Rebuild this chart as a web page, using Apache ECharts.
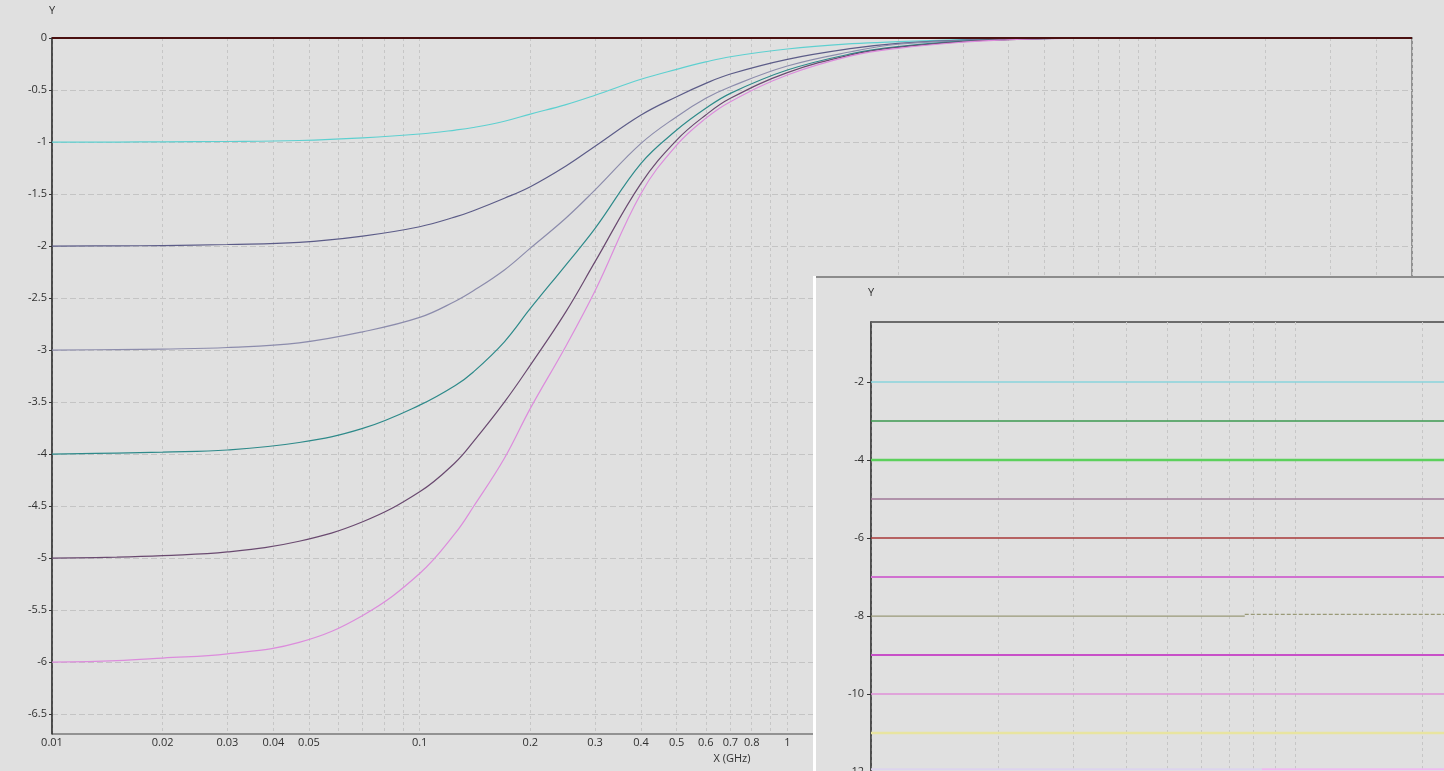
<!DOCTYPE html>
<html><head><meta charset="utf-8">
<script src="https://cdn.jsdelivr.net/npm/echarts@6/dist/echarts.min.js"></script>
<style>html,body{margin:0;padding:0;background:#e0e0e0}#c{width:1444px;height:771px}</style>
</head><body><div id="c"></div>
<script>
// ---- main chart data ----
const freq = [0.01,0.015,0.02,0.03,0.047,0.07,0.1,0.125,0.14,0.17,0.2,0.25,0.3,0.4,0.5,0.6,0.7,1,1.5,2,3,4,5,7,10,20,50];
const curveA = [-1.0,-1.0,-0.998,-0.995,-0.985,-0.96,-0.923,-0.885,-0.86,-0.80,-0.731,-0.64,-0.55,-0.397,-0.301,-0.23,-0.18,-0.106,-0.055,-0.035,-0.015,-0.007,-0.003,0,0,0,0];
const curveB = [-2.0,-1.998,-1.995,-1.985,-1.965,-1.904,-1.814,-1.72,-1.66,-1.54,-1.429,-1.23,-1.04,-0.74,-0.564,-0.436,-0.346,-0.205,-0.10,-0.051,-0.02,-0.01,-0.004,0,0,0,0];
const curveC = [-3.0,-2.995,-2.99,-2.975,-2.93,-2.824,-2.686,-2.53,-2.43,-2.23,-2.02,-1.73,-1.46,-1.013,-0.756,-0.58,-0.468,-0.269,-0.13,-0.06,-0.025,-0.012,-0.005,0,0,0,0];
const curveD = [-4.0,-3.99,-3.98,-3.96,-3.888,-3.753,-3.529,-3.34,-3.21,-2.92,-2.60,-2.18,-1.83,-1.205,-0.885,-0.676,-0.532,-0.308,-0.15,-0.083,-0.03,-0.014,-0.006,0,0,0,0];
const curveE = [-5.0,-4.99,-4.975,-4.94,-4.837,-4.65,-4.362,-4.08,-3.88,-3.50,-3.144,-2.63,-2.15,-1.397,-0.981,-0.74,-0.58,-0.333,-0.16,-0.09,-0.035,-0.015,-0.006,0,0,0,0];
const curveF = [-6.0,-5.985,-5.96,-5.92,-5.81,-5.55,-5.147,-4.76,-4.506,-4.04,-3.56,-2.96,-2.43,-1.494,-1.029,-0.772,-0.612,-0.356,-0.17,-0.099,-0.04,-0.017,-0.007,0,0,0,0];
const zeroFreq = [0.01, 50];
const zeroVals = [0, 0];
const xTicks = [0.01,0.02,0.03,0.04,0.05,0.06,0.07,0.08,0.09,0.1,0.2,0.3,0.4,0.5,0.6,0.7,0.8,0.9,1,2,3,4,5,6,7,8,9,10,20,30,40,50];
const xLabels = [0.01,0.02,0.03,0.04,0.05,0.1,0.2,0.3,0.4,0.5,0.6,0.7,0.8,1,2,3,4,5,10,20,30,40,50];
const yTicks = [0,-0.5,-1,-1.5,-2,-2.5,-3,-3.5,-4,-4.5,-5,-5.5,-6,-6.5];

// ---- inset data ----
const insetFreq = [1, 50];
const insetLevels = [-2,-3,-4,-5,-6,-7,-8,-9,-10,-11];
const insetOliveSolid = [[1,-8],[7.62,-8]];
const insetOliveDashed = [[7.62,-7.96],[50,-7.96]];
const insetBottomA = [[1,-11.93],[8.36,-11.93]];
const insetBottomB = [[8.36,-11.93],[50,-11.93]];
const insetXTicks = [1,2,3,4,5,6,7,8,9,10,20,30,40,50];
const insetYTicks = [-14,-12,-10,-8,-6,-4,-2];

const mainColors = ['#5ed0d0','#5c5c88','#8c8cac','#2e8a8a','#6a4a70','#dc8cdc'];
const insetColors = ['#8ad4dc','#3c9a50','#5cd05c','#a07898','#a83838','#d070d0','#9a9a78','#c850c8','#e090d8','#e8e4a0'];
const insetWidths = [1.5,1.5,2.5,1.5,1.5,2,1.2,2,1.5,2.5];

const FONT = 'Open Sans';
const txt = {fontFamily: FONT, fontSize: 11, color: '#303030'};
const fmt = v => String(parseFloat(Number(v).toPrecision(6)));

const mainCurves = [curveA, curveB, curveC, curveD, curveE, curveF];
const series = [];
mainCurves.forEach((c, i) => {
  series.push({
    type: 'line', xAxisIndex: 0, yAxisIndex: 0, symbol: 'none', smooth: 0.4,
    data: freq.map((f, j) => [f, c[j]]),
    lineStyle: {color: mainColors[i], width: 1.2}, z: 2
  });
});
series.push({
  type: 'line', xAxisIndex: 0, yAxisIndex: 0, symbol: 'none',
  data: zeroFreq.map((f, j) => [f, zeroVals[j]]),
  lineStyle: {color: '#4a1010', width: 2}, z: 3
});
insetLevels.forEach((lv, i) => {
  if (lv === -8) return;
  series.push({
    type: 'line', xAxisIndex: 1, yAxisIndex: 1, symbol: 'none',
    data: insetFreq.map(f => [f, lv]),
    lineStyle: {color: insetColors[i], width: insetWidths[i]}, z: 7
  });
});
series.push({type: 'line', xAxisIndex: 1, yAxisIndex: 1, symbol: 'none', data: insetOliveSolid,
  lineStyle: {color: '#9a9a78', width: 1.2}, z: 7});
series.push({type: 'line', xAxisIndex: 1, yAxisIndex: 1, symbol: 'none', data: insetOliveDashed,
  lineStyle: {color: '#9a9a78', width: 1.2, type: [4, 2]}, z: 7});
series.push({type: 'line', xAxisIndex: 1, yAxisIndex: 1, symbol: 'none', data: insetBottomA,
  lineStyle: {color: '#dcd4ee', width: 2}, z: 7});
series.push({type: 'line', xAxisIndex: 1, yAxisIndex: 1, symbol: 'none', data: insetBottomB,
  lineStyle: {color: '#f0b8f0', width: 2}, z: 7});

const option = {
  animation: false,
  backgroundColor: '#e0e0e0',
  textStyle: {fontFamily: FONT},
  grid: [
    {left: 52, top: 38, width: 1360, height: 696, show: true, borderColor: '#444', borderWidth: 1, backgroundColor: 'transparent', z: 0, outerBoundsMode: 'none'},
    {left: 871, top: 322, width: 720, height: 528, show: true, borderColor: '#444', borderWidth: 1.5, backgroundColor: 'transparent', z: 6, outerBoundsMode: 'none'}
  ],
  xAxis: [
    {type: 'log', logBase: 10, gridIndex: 0, min: 0.01, max: 50,
     name: 'X (GHz)', nameLocation: 'middle', nameGap: 17, nameTextStyle: txt,
     axisLine: {show: true, lineStyle: {color: '#333', width: 1.5}},
     axisTick: {show: false, customValues: xTicks},
     axisLabel: Object.assign({customValues: xLabels, margin: 3, formatter: fmt}, txt),
     splitLine: {show: true, lineStyle: {color: '#c6c6c6', width: 1, type: [3, 3]}},
     minorTick: {show: false}, minorSplitLine: {show: false}, z: 0},
    {type: 'log', logBase: 10, gridIndex: 1, min: 1, max: 50,
     axisLine: {show: true, lineStyle: {color: '#444', width: 1.5}},
     axisTick: {show: false, customValues: insetXTicks},
     axisLabel: Object.assign({customValues: insetXTicks, margin: 3, formatter: fmt}, txt),
     splitLine: {show: true, lineStyle: {color: '#c6c6c6', width: 1, type: [3, 3]}}, z: 6}
  ],
  yAxis: [
    {type: 'value', gridIndex: 0, min: -6.69, max: 0,
     name: 'Y', nameLocation: 'end', nameGap: 22, nameTextStyle: Object.assign({align: 'center'}, txt),
     axisLine: {show: true, lineStyle: {color: '#333', width: 1.5}},
     axisTick: {show: true, length: 3, customValues: yTicks, lineStyle: {color: '#333'}},
     axisLabel: Object.assign({customValues: yTicks, margin: 5, padding: [0, 0, 5, 0], formatter: fmt}, txt),
     splitLine: {show: true, lineStyle: {color: '#c4c4c4', width: 1, type: [6, 3]}}, z: 0},
    {type: 'value', gridIndex: 1, min: -14, max: -0.46,
     name: 'Y', nameLocation: 'end', nameGap: 24, nameTextStyle: Object.assign({align: 'center'}, txt),
     axisLine: {show: true, lineStyle: {color: '#444', width: 1.5}},
     axisTick: {show: true, length: 4, customValues: insetYTicks, lineStyle: {color: '#333'}},
     axisLabel: Object.assign({customValues: insetYTicks, margin: 7, padding: [0, 0, 5, 0], formatter: fmt}, txt),
     splitLine: {show: false}, z: 6}
  ],
  graphic: [
    {type: 'rect', z: 5, shape: {x: 813, y: 276, width: 700, height: 600}, style: {fill: '#e0e0e0'}},
    {type: 'line', z: 5, shape: {x1: 813, y1: 277, x2: 1444, y2: 277}, style: {stroke: '#8c8c8c', lineWidth: 2}},
    {type: 'line', z: 5, shape: {x1: 814.5, y1: 276, x2: 814.5, y2: 771}, style: {stroke: '#ffffff', lineWidth: 3}}
  ],
  series: series
};
const chart = echarts.init(document.getElementById('c'), null, {renderer: 'canvas'});
chart.setOption(option);
</script>
</body></html>
